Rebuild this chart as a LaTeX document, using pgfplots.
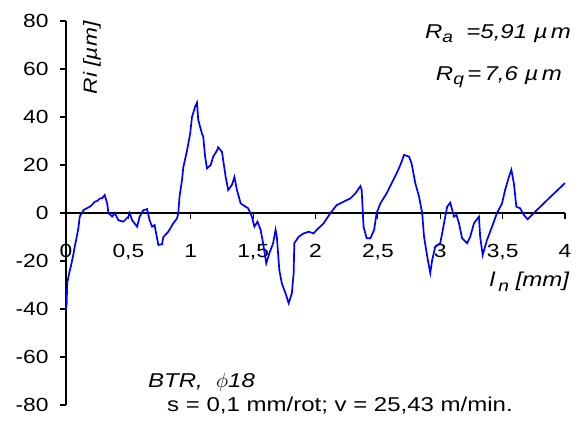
\documentclass[border=0pt]{standalone}
\usepackage{pgfplots}
\pgfplotsset{compat=1.18}
\usepackage{fontspec}
\setmainfont{Liberation Sans}[FakeStretch=1.2]
\definecolor{curve}{RGB}{0,0,255}
\begin{document}
\begin{tikzpicture}
\fontsize{19}{22}\selectfont
\useasboundingbox (-66pt,-210pt) rectangle (519pt,213pt);
\begin{axis}[
  anchor=origin, at={(0pt,0pt)},
  x=124.75pt, y=2.4pt,
  xmin=0, xmax=4, ymin=-80, ymax=80,
  axis x line=middle, axis y line=left,
  axis line style={-, line width=1.2pt, black},
  hide obscured x ticks=false, hide obscured y ticks=false,
  xtick={0,0.5,1,1.5,2,2.5,3,3.5,4},
  ytick={-80,-60,-40,-20,0,20,40,60,80},
  tick align=outside,
  major tick length=6pt,
  tick style={line width=1.2pt, black},
  /pgf/number format/.cd, use comma, 1000 sep={}, assume math mode=true,
  /pgfplots/.cd,
  tick label style={font=\fontsize{19}{22}\selectfont},
  xticklabel style={yshift=-19pt},
  yticklabel style={xshift=-5pt},
  clip=false,
]
\addplot[curve, line width=1.7pt] coordinates {
(0,-40) (0.005,-38) (0.01,-29) (0.03,-24) (0.04,-22) (0.06,-17) (0.07,-14) (0.086,-10) (0.1,-6) (0.11,-1.5)
(0.14,1.2) (0.16,1.8) (0.19,2.6) (0.21,3.5) (0.23,4.7) (0.25,5) (0.27,6) (0.29,6.2) (0.31,7.5) (0.33,4) (0.34,0) (0.37,-1.5)
(0.39,0) (0.42,-3) (0.46,-3.6) (0.50,-1.5) (0.51,0) (0.53,-3) (0.57,-5.7) (0.59,-1.5)
(0.62,1.2) (0.65,1.6) (0.67,-3) (0.69,-5.7) (0.71,-5) (0.74,-13.3) (0.77,-13) (0.78,-10)
(0.82,-7.8) (0.86,-4.3) (0.89,-2.2) (0.90,0) (0.91,6.8) (0.93,13.8) (0.94,19) (0.97,26)
(0.995,33) (1.01,40) (1.035,44.3) (1.05,46) (1.06,38.8) (1.09,33) (1.10,31.8) (1.115,23.5)
(1.13,18.6) (1.16,20) (1.18,23.5) (1.21,26) (1.22,27.4) (1.25,25.5) (1.26,22) (1.28,15)
(1.30,9.6) (1.33,11.7) (1.35,15) (1.37,9.6) (1.40,4) (1.44,2.6) (1.46,2) (1.49,-1.5)
(1.51,-5.7) (1.535,-3.6) (1.56,-7) (1.58,-12.6) (1.605,-21) (1.63,-16.8) (1.66,-12.6) (1.68,-7)
(1.69,-9.9) (1.71,-23.8) (1.73,-29.3) (1.76,-33.5) (1.785,-37.6) (1.81,-33.5) (1.825,-25) (1.83,-12.6)
(1.865,-9.9) (1.905,-8.5) (1.945,-7.8) (1.985,-8.5) (2.01,-7) (2.065,-4.3) (2.12,0) (2.17,3.3)
(2.225,4.7) (2.28,6.1) (2.32,8.2) (2.36,11.2) (2.37,9.6) (2.385,-5.7) (2.41,-10.5) (2.44,-10.5)
(2.47,-7) (2.49,0) (2.52,4) (2.57,8.2) (2.61,12.4) (2.65,16.5) (2.68,20) (2.71,24.2)
(2.75,23.5) (2.77,20.7) (2.80,12.4) (2.83,6.8) (2.855,0) (2.87,-9.9) (2.895,-18) (2.92,-25)
(2.935,-19.6) (2.96,-14) (3.0,-12.6) (3.03,-4.3) (3.055,2.6) (3.08,4.3) (3.11,-1.5) (3.13,-0.8)
(3.15,-4.3) (3.175,-10.5) (3.215,-12.6) (3.24,-9.9) (3.27,-4.3) (3.31,-1.5) (3.32,-9.9) (3.34,-17.5)
(3.375,-11.2) (3.415,-5.7) (3.455,0) (3.495,4) (3.52,9.6) (3.55,15) (3.57,18) (3.59,12.4)
(3.61,2.6) (3.64,2) (3.67,-0.8) (3.70,-2.6) (3.75,0) (3.885,6.8) (4.0,12.5)
};
\node[anchor=base, font=\fontsize{20}{23}\selectfont\itshape] at (axis cs:3.463,72.9) {R\raisebox{-0.45ex}{\fontsize{16}{18}\selectfont a}\ \ =5,91 \textmu\,m};
\node[anchor=base, font=\fontsize{20}{23}\selectfont\itshape] at (axis cs:3.47,55.4) {R\raisebox{-0.45ex}{\fontsize{16}{18}\selectfont q}\,=\,7,6 \textmu\,m};
\node[rotate=90, font=\itshape] at (axis cs:0.208,64.6) {Ri [\textmu m]};
\node[anchor=base east, font=\fontsize{20}{23}\selectfont\itshape] at (axis cs:4.085,-30.8) {l\,\raisebox{-0.45ex}{\fontsize{16}{18}\selectfont n} [mm]};
\node[anchor=base west, font=\fontsize{20}{23}\selectfont\itshape, inner sep=0pt] at (axis cs:0.657,-72.9) {BTR,\ \ $\phi$18};
\node[anchor=base west, font=\fontsize{20}{23}\selectfont, inner sep=0pt] at (axis cs:0.81,-82.9) {s = 0,1 mm/rot; v = 25,43 m/min.};
\end{axis}
\end{tikzpicture}
\end{document}
